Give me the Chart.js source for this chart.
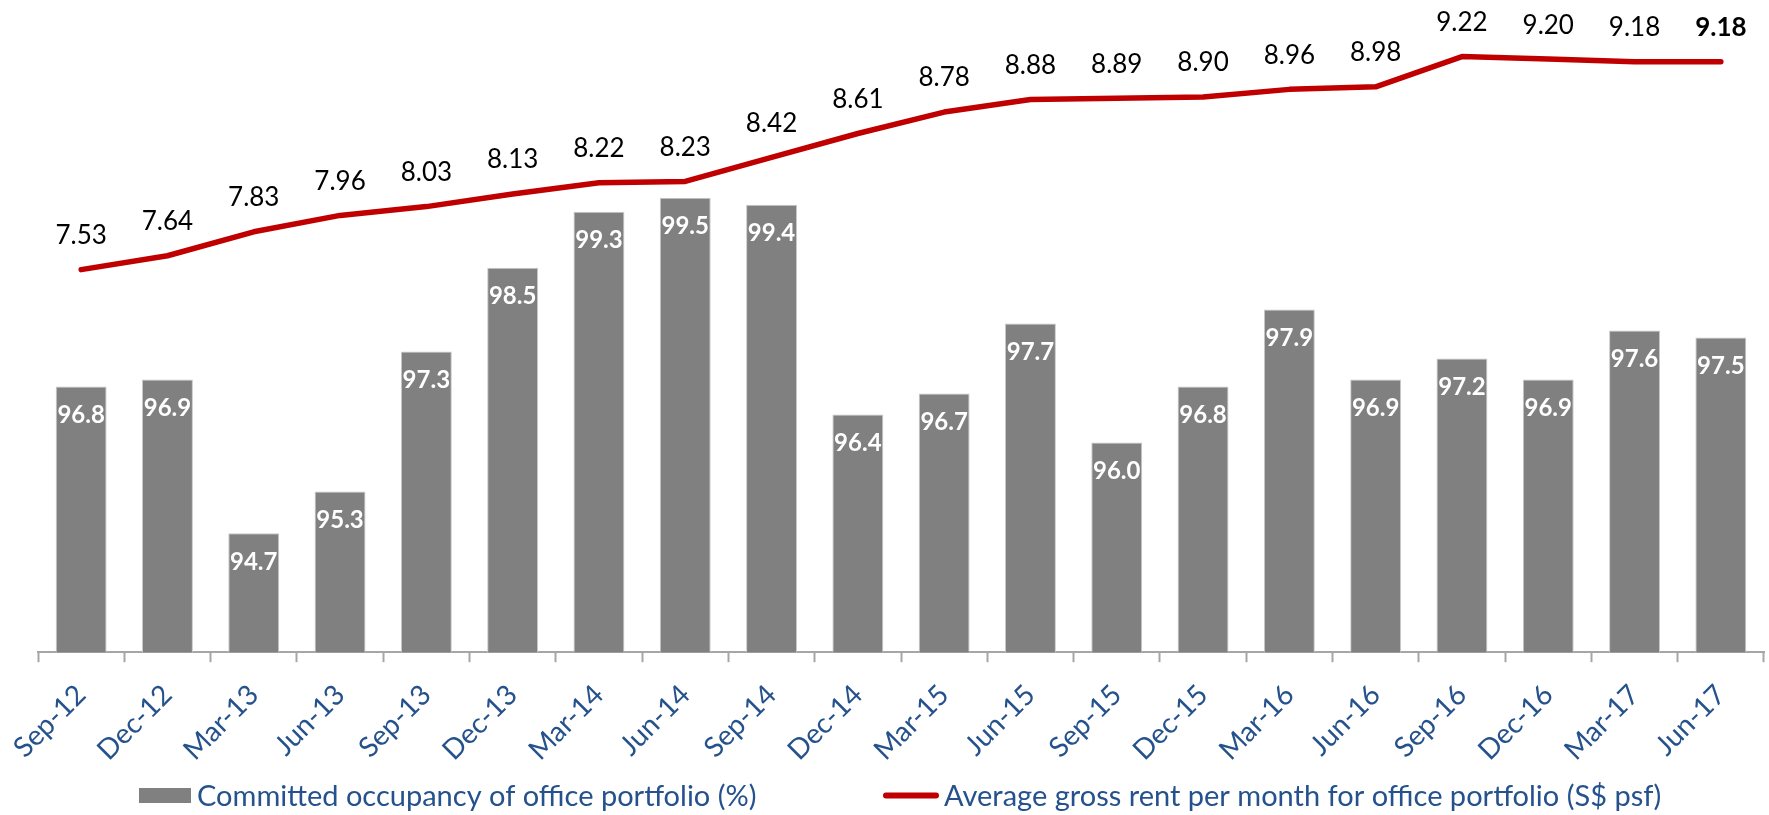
<!DOCTYPE html>
<html>
<head>
<meta charset="utf-8">
<script src="https://cdn.jsdelivr.net/npm/chart.js@4.4.1/dist/chart.umd.min.js"></script>
<style>
  html, body { margin: 0; padding: 0; background: #ffffff; }
  #wrap { width: 1769px; height: 815px; position: relative; }
</style>
</head>
<body>
<div id="wrap"><canvas id="c" width="1769" height="815"></canvas></div>
<script>
const categories = ["Sep-12","Dec-12","Mar-13","Jun-13","Sep-13","Dec-13","Mar-14","Jun-14","Sep-14","Dec-14",
                    "Mar-15","Jun-15","Sep-15","Dec-15","Mar-16","Jun-16","Sep-16","Dec-16","Mar-17","Jun-17"];
const occupancy = [96.8, 96.9, 94.7, 95.3, 97.3, 98.5, 99.3, 99.5, 99.4, 96.4,
                   96.7, 97.7, 96.0, 96.8, 97.9, 96.9, 97.2, 96.9, 97.6, 97.5];
const rent = [7.53, 7.64, 7.83, 7.96, 8.03, 8.13, 8.22, 8.23, 8.42, 8.61,
              8.78, 8.88, 8.89, 8.90, 8.96, 8.98, 9.22, 9.20, 9.18, 9.18];
const seriesNames = ["Committed occupancy of office portfolio (%)",
                     "Average gross rent per month for office portfolio (S$ psf)"];

const FONT = "Lato, 'Open Sans', sans-serif";
const BLUE = "#25528C";
const GRAY = "#808080";
const RED = "#C00000";

const valueLabels = {
  id: "valueLabels",
  afterDatasetsDraw(chart) {
    const ctx = chart.ctx;
    ctx.save();
    ctx.textAlign = "center";
    ctx.textBaseline = "middle";
    const barMeta = chart.getDatasetMeta(0);
    ctx.fillStyle = "#ffffff";
    ctx.font = "bold 24px " + FONT;
    barMeta.data.forEach((el, i) => {
      ctx.fillText(occupancy[i].toFixed(1), el.x, el.y + 29);
    });
    const lineMeta = chart.getDatasetMeta(1);
    ctx.fillStyle = "#000000";
    lineMeta.data.forEach((el, i) => {
      const last = i === rent.length - 1;
      ctx.font = (last ? "bold " : "") + "26px " + FONT;
      ctx.fillText(rent[i].toFixed(2), el.x, el.y - 34);
    });
    ctx.restore();
  }
};

// legend drawn under the axis from the datasets' own labels and colours
const bottomLegend = {
  id: "bottomLegend",
  afterDraw(chart) {
    const ctx = chart.ctx;
    const ds = chart.data.datasets;
    const cy = 795.5;
    ctx.save();
    ctx.font = "29px " + FONT;
    ctx.textBaseline = "middle";
    ctx.textAlign = "left";
    ctx.fillStyle = ds[0].backgroundColor;
    ctx.fillRect(139, cy - 7.5, 52, 15);
    ctx.fillStyle = BLUE;
    ctx.fillText(ds[0].label, 197, cy + 1);
    ctx.strokeStyle = ds[1].borderColor;
    ctx.lineWidth = 6;
    ctx.lineCap = "round";
    ctx.beginPath();
    ctx.moveTo(886, cy);
    ctx.lineTo(936, cy);
    ctx.stroke();
    ctx.fillStyle = BLUE;
    ctx.fillText(ds[1].label, 944, cy + 1);
    ctx.restore();
  }
};

new Chart(document.getElementById("c"), {
  type: "bar",
  data: {
    labels: categories,
    datasets: [
      {
        type: "bar",
        label: seriesNames[0],
        data: occupancy,
        backgroundColor: GRAY,
        borderColor: "#c8c8c8",
        borderWidth: 1,
        barPercentage: 0.59,
        categoryPercentage: 1.0,
        yAxisID: "y",
        order: 2
      },
      {
        type: "line",
        label: seriesNames[1],
        data: rent,
        borderColor: RED,
        backgroundColor: RED,
        borderWidth: 5.5,
        borderCapStyle: "round",
        borderJoinStyle: "round",
        pointRadius: 0,
        tension: 0,
        yAxisID: "y1",
        order: 1
      }
    ]
  },
  options: {
    responsive: false,
    animation: false,
    layout: { padding: { top: 15, left: 38, right: 5, bottom: 32 } },
    plugins: {
      tooltip: { enabled: false },
      legend: { display: false }
    },
    scales: {
      x: {
        offset: true,
        grid: {
          offset: true,
          drawOnChartArea: false,
          drawTicks: true,
          tickLength: 10,
          tickWidth: 2,
          color: "#a6a6a6"
        },
        border: { display: true, color: "#a6a6a6", width: 2 },
        ticks: {
          color: BLUE,
          font: { family: FONT, size: 28 },
          minRotation: 45,
          maxRotation: 45,
          autoSkip: false,
          padding: 16
        }
      },
      y: {
        display: false,
        min: 93,
        max: 102.114
      },
      y1: {
        display: false,
        position: "right",
        min: 4.495,
        max: 9.55
      }
    }
  },
  plugins: [valueLabels, bottomLegend]
});
</script>
</body>
</html>
